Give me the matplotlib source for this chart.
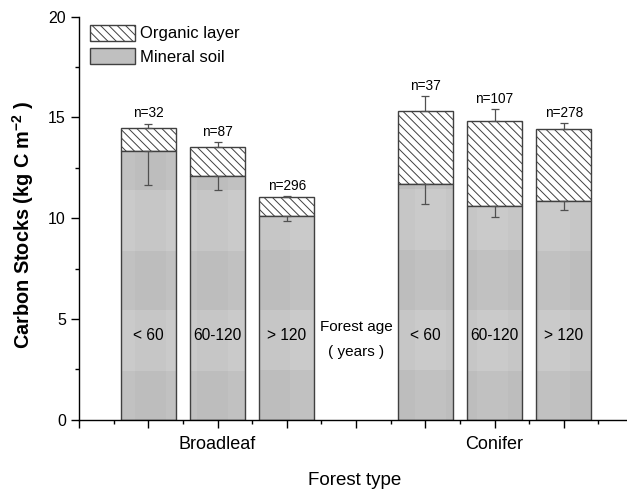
import numpy as np
import matplotlib
matplotlib.use("Agg")
import matplotlib.pyplot as plt
from matplotlib.patches import Patch
from matplotlib.ticker import MultipleLocator, FixedLocator

# carbon stocks (kg C m-2)
forest_types = ["Broadleaf", "Conifer"]
age_classes = ["< 60", "60-120", "> 120"]
mineral = [13.34, 12.10, 10.13, 11.72, 10.60, 10.86]
mineral_err = [1.70, 0.72, 0.29, 1.04, 0.55, 0.45]
organic = [1.13, 1.44, 0.90, 3.60, 4.23, 3.56]
total_err = [0.21, 0.22, 0.06, 0.74, 0.57, 0.28]
n_obs = [32, 87, 296, 37, 107, 278]

plt.rcParams.update({"font.family": ["Liberation Sans", "DejaVu Sans"],
                     "mathtext.fontset": "custom",
                     "mathtext.rm": "Liberation Sans",
                     "mathtext.bf": "Liberation Sans:bold",
                     "hatch.linewidth": 0.7, "hatch.color": "#303030"})

fig = plt.figure(figsize=(6.27, 4.93), dpi=100)
ax = fig.add_axes([0.126, 0.149, 0.8836, 0.817])
ax.set_xlim(0.5, 2.5)
ax.set_ylim(0, 20)

offsets = [-0.25, 0.0, 0.25]
xs = [i + 1 + o for i in range(len(forest_types)) for o in offsets]
totals = [m + o for m, o in zip(mineral, organic)]

bars = ax.bar(xs, mineral, width=0.2, color="#c0c0c0", edgecolor="#404040", lw=1.0, zorder=2)
ax.bar(xs, organic, bottom=mineral, width=0.2, color="white", edgecolor="#404040",
       lw=1.0, hatch="\\\\\\\\", zorder=2)

# blotchy grey fill of the original (tiled shading, clipped to each mineral bar)
tile_x, tile_y = 0.1126, 2.98
cols = np.floor((np.linspace(0.5, 2.5, 400) - 0.696) / tile_x).astype(int)
rows = np.floor((np.linspace(0, 20, 400) - 2.45) / tile_y).astype(int)
shade = 0.765 + 0.018 * np.where(rows % 2 == 0, 1, -1)[:, None] \
    + 0.008 * np.where(cols % 2 == 0, -1, 1)[None, :]
for b in bars:
    im = ax.imshow(shade, cmap="gray", vmin=0, vmax=1, extent=[0.5, 2.5, 0, 20],
                   origin="lower", aspect="auto", interpolation="nearest", zorder=2.1)
    im.set_clip_path(b)
    b.set_facecolor("none")
    b.set_zorder(2.2)

ax.errorbar(xs, mineral, yerr=[mineral_err, [0] * 6], fmt="none", ecolor="#505050",
            elinewidth=0.9, capsize=3, capthick=0.9, zorder=3)
ax.errorbar(xs, totals, yerr=[[0] * 6, total_err], fmt="none", ecolor="#505050",
            elinewidth=0.9, capsize=3, capthick=0.9, zorder=3)

for x, t, e, n in zip(xs, totals, total_err, n_obs):
    ax.annotate(f"n={n}", (x, t + e), xytext=(0, 2.5), textcoords="offset points",
                ha="center", va="bottom", fontsize=9.8)
for x, a in zip(xs, age_classes * 2):
    ax.text(x, 4.15, a, ha="center", va="center", fontsize=11.2, zorder=4)
ax.text(1.5, 4.6, "Forest age", ha="center", va="center", fontsize=11)
ax.text(1.5, 3.35, "( years )", ha="center", va="center", fontsize=11)

ax.set_xlim(0.5, 2.5)
ax.set_ylim(0, 20)
major_x = np.arange(0.5, 2.51, 0.25)
ax.xaxis.set_major_locator(FixedLocator(major_x))
ax.set_xticklabels([forest_types[int(v) - 1] if v in (1, 2) else "" for v in major_x])
ax.xaxis.set_minor_locator(MultipleLocator(0.125))
ax.yaxis.set_major_locator(MultipleLocator(5))
ax.yaxis.set_minor_locator(MultipleLocator(2.5))
ax.tick_params(axis="both", which="major", direction="out", length=6, width=1.0,
               labelsize=11.5)
ax.tick_params(axis="both", which="minor", direction="out", length=3, width=1.0)
ax.tick_params(axis="x", which="major", labelsize=13, pad=6)
ax.spines["top"].set_visible(False)
ax.spines["right"].set_visible(False)
ax.spines["left"].set_linewidth(1.0)
ax.spines["bottom"].set_linewidth(1.0)

ax.set_xlabel("Forest type", fontsize=13.5)
ax.xaxis.set_label_coords(0.498, -0.131)
ax.set_ylabel("Carbon Stocks (kg C m$^{\\mathbf{-2}}$ )", fontsize=14.3,
              fontweight="bold")
ax.yaxis.set_label_coords(-0.078, 0.483)

handles = [Patch(facecolor="white", edgecolor="#404040", hatch="\\\\\\\\", label="Organic layer"),
           Patch(facecolor="#c0c0c0", edgecolor="#404040", label="Mineral soil")]
ax.legend(handles=handles, loc="upper left", bbox_to_anchor=(0.008, 0.997), frameon=False,
          fontsize=12, handlelength=2.7, handleheight=1.1, handletextpad=0.3,
          labelspacing=0.4, borderaxespad=0)

fig.savefig("out.png", dpi=100)
